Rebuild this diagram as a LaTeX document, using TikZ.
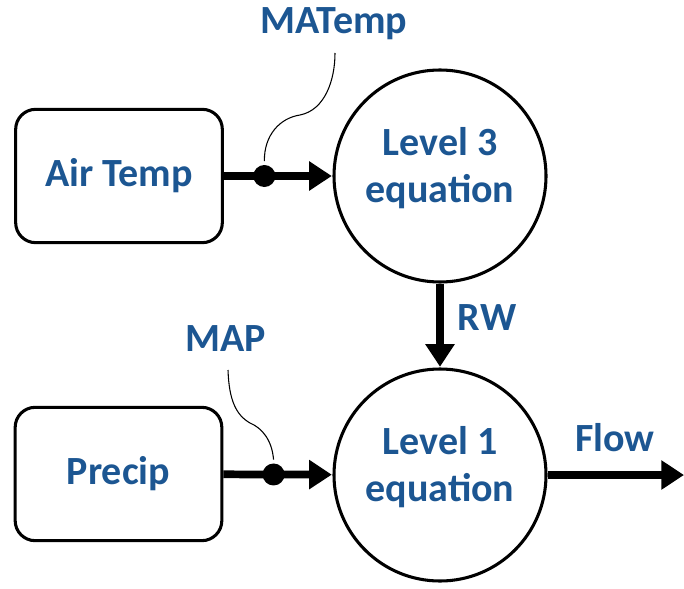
\documentclass[tikz,border=0pt]{standalone}
\usepackage{fontspec}
\setmainfont{Carlito}
\usetikzlibrary{arrows.meta}
\definecolor{txtblue}{RGB}{28,86,146}
\begin{document}
\begin{tikzpicture}[x=0.75pt,y=-0.75pt,
  lbl/.style={text=txtblue,font=\fontsize{30}{35}\selectfont\bfseries,inner sep=0pt},
  srcbox/.style={draw,line width=2.3pt,rounded corners=15pt,minimum width=155pt,minimum height=100pt,lbl},
  eqcirc/.style={draw,circle,line width=2.3pt,minimum size=159pt},
  eqtext/.style={lbl,align=center},
  flow/.style={line width=5.8pt,-{Triangle[length=17pt,width=21pt]},shorten >=0.5pt},
  dotnode/.style={circle,fill=black,inner sep=0pt,minimum size=16.5pt},
  thin/.style={line width=0.8pt}]
\useasboundingbox (0,0) rectangle (684,588);
\node[srcbox] (at) at (119,176) {Air Temp};
\node[srcbox] (pr) at (118.5,474) {Precip};
\node[eqcirc,label={[eqtext,yshift=6pt]center:Level 3\\equation}] (l3) at (440,176) {};
\node[eqcirc,label={[eqtext,yshift=6pt]center:Level 1\\equation}] (l1) at (440,475) {};
\coordinate (out) at (684,475);
\draw[flow] (at) -- node[pos=0.373,dotnode] (d1) {} (l3);
\draw[flow] (pr) -- node[pos=0.46,dotnode] (d2) {} (l1);
\draw[flow] (l3) -- (l1);
\draw[flow,shorten >=0pt] (l1) -- (out);
\node[lbl] (matemp) at (334,24) {MATemp};
\node[lbl] (map) at (226,339) {MAP};
\node[lbl] (rw) at (487,318) {RW};
\node[lbl] (flowlbl) at (615,438) {Flow};
\draw[thin] (d1.north) .. controls (264,135) and (280,118) .. (300,115) .. controls (325,110) and (335,80) .. (335,53);
\draw[thin] (d2.north) .. controls (272,440) and (262,428) .. (250,423) .. controls (236,415) and (229,400) .. (228,370);
\end{tikzpicture}
\end{document}
